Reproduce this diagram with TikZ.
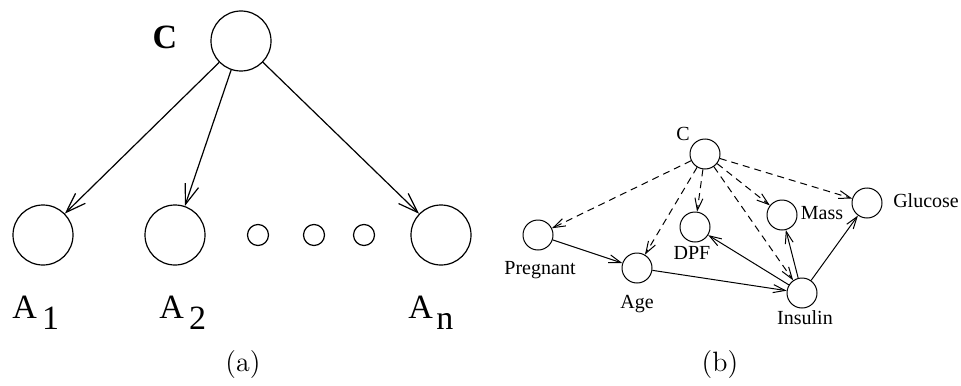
\documentclass[tikz,border=0pt]{standalone}
\usepackage{fontspec}
\setmainfont{Liberation Serif}
\newfontfamily\capfont{Latin Modern Roman}
\usetikzlibrary{arrows.meta,positioning}

\begin{document}
\begin{tikzpicture}[x=0.5pt, y=-0.5pt,
        bigvar/.style={circle, draw, line width=0.6pt, inner sep=0pt, minimum size=30pt},
        dotvar/.style={circle, draw, line width=0.6pt, inner sep=0pt, minimum size=10.5pt},
        var/.style={circle, draw, line width=0.5pt, inner sep=0pt, minimum size=15pt},
        biglabel/.style={font=\rmfamily\fontsize{17}{20}\selectfont, inner sep=0pt},
        varlabel/.style={font=\rmfamily\fontsize{10}{12}\selectfont, inner sep=0pt},
        caption/.style={font=\capfont\fontsize{14}{16}\selectfont, inner sep=0pt},
        bigarrow/.style={-{Straight Barb[length=10pt, width=7pt]}, line width=0.6pt},
        arrow/.style={-{Straight Barb[length=6pt, width=4pt]}, line width=0.5pt},
        dasharrow/.style={arrow, dash pattern=on 3.5pt off 2.5pt}]

    \useasboundingbox (0,0) rectangle (961,385);

    % (a) naive Bayes
    \node[bigvar] (c) at (241,41) {};
    \node[bigvar] (a1) at (43,235) {};
    \node[bigvar] (a2) at (175,235) {};
    \node[dotvar] (d1) at (258,235) {};
    \node[dotvar] (d2) at (314,235) {};
    \node[dotvar] (d3) at (364,235) {};
    \node[bigvar] (an) at (441,235) {};

    \node[biglabel, font=\rmfamily\bfseries\fontsize{17}{20}\selectfont] (clbl) at (165,37) {C};
    \node[biglabel, anchor=base west] (a1lbl) at (12,318) {A\hspace{0.15em}\raisebox{-0.33em}{1}};
    \node[biglabel, anchor=base west] (a2lbl) at (159,318) {A\hspace{0.15em}\raisebox{-0.33em}{2}};
    \node[biglabel, anchor=base west] (anlbl) at (408,318) {A\hspace{0.1em}\raisebox{-0.33em}{n}};
    \node[caption, anchor=base] (capa) at (243,371) {(a)};

    \draw[bigarrow] (c) -- (a1);
    \draw[bigarrow] (c) -- (a2);
    \draw[bigarrow] (c) -- (an);

    % (b) augmented network
    \node[var] (cb) at (705,154) {};
    \node[var] (preg) at (538,235) {};
    \node[var] (age) at (637,268) {};
    \node[var] (dpf) at (695,227) {};
    \node[var] (mass) at (782,215) {};
    \node[var] (gluc) at (867,203) {};
    \node[var] (ins) at (802,293) {};

    \node[varlabel, anchor=base] (cblbl) at (683,140) {C};
    \node[varlabel, anchor=base] (preglbl) at (540,274) {Pregnant};
    \node[varlabel, anchor=base] (agelbl) at (637,308) {Age};
    \node[varlabel, anchor=base] (dpflbl) at (692,259) {DPF};
    \node[varlabel, anchor=base] (masslbl) at (822,219) {Mass};
    \node[varlabel, anchor=base] (glucl) at (926,207) {Glucose};
    \node[varlabel, anchor=base] (inslbl) at (805,324) {Insulin};
    \node[caption, anchor=base] (capb) at (720,371) {(b)};

    \draw[dasharrow] (cb) -- (preg);
    \draw[dasharrow] (cb) -- (age);
    \draw[dasharrow] (cb) -- (dpf);
    \draw[dasharrow] (cb) -- (mass);
    \draw[dasharrow] (cb) -- (gluc);
    \draw[dasharrow] (cb) -- (ins);

    \draw[arrow] (preg) -- (age);
    \draw[arrow] (age) -- (ins);
    \draw[arrow] (ins) -- (dpf);
    \draw[arrow] (ins) -- (mass);
    \draw[arrow] (ins) -- (gluc);

\end{tikzpicture}
\end{document}
